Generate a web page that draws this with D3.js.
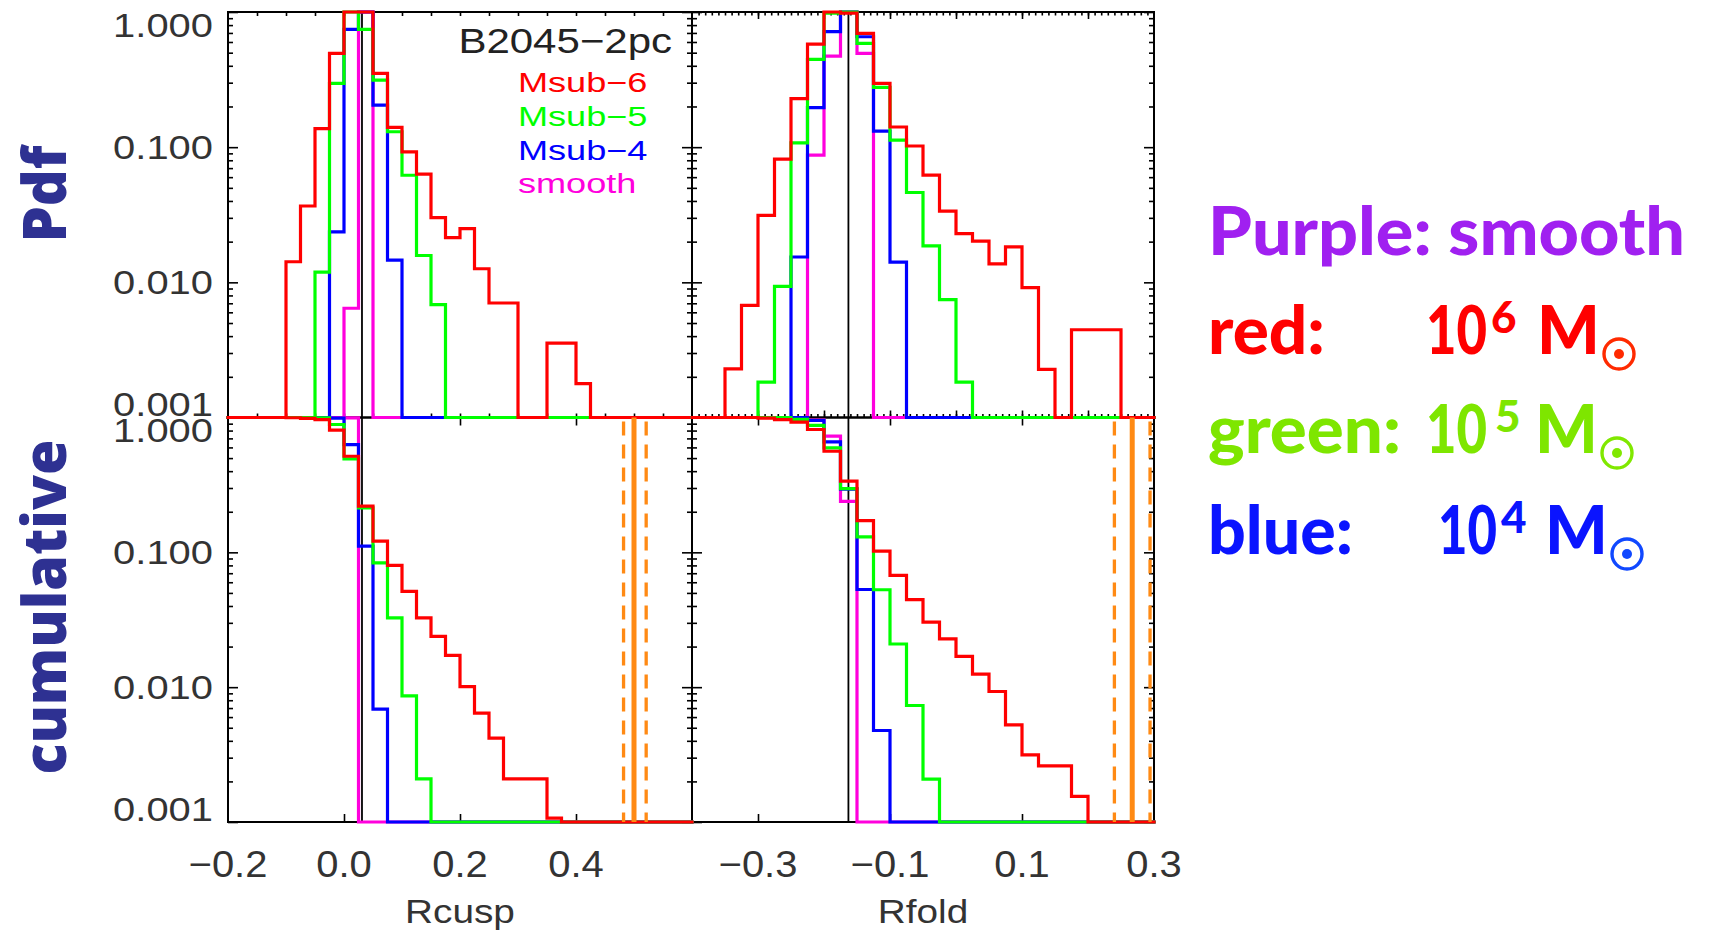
<!DOCTYPE html>
<html>
<head>
<meta charset="utf-8">
<script src="https://cdn.jsdelivr.net/npm/d3@7"></script>
<style>
  html, body { margin: 0; padding: 0; background: #fff; }
  svg { display: block; }
</style>
</head>
<body>
<svg id="chart" width="1711" height="932"></svg>
<script>
// ---------------------------------------------------------------
// Flux-ratio anomaly distributions for B2045 (2 pc source),
// substructure mass 10^6 / 10^5 / 10^4 Msun and the smooth model.
// All histograms use 0.025-wide bins.
// ---------------------------------------------------------------
const binWidth = 0.025;
const cuspBinStart = -0.2;   // 32 bins, -0.2 .. 0.6
const foldBinStart = -0.4;   // 28 bins, -0.4 .. 0.3

// Rcusp, probability density (peak = 1)
const pdfCuspM6 = [0, 0, 0, 0, 0.0142, 0.0367, 0.137, 0.494, 1.0, 1.0, 0.351, 0.140, 0.0923, 0.0631, 0.0301, 0.0214,
                   0.025, 0.0126, 0.00703, 0.00703, 0, 0, 0.00355, 0.00355, 0.00178, 0, 0, 0, 0, 0, 0, 0];
const pdfCuspM5 = [0, 0, 0, 0, 0, 0, 0.0119, 0.296, 1.0, 0.744, 0.313, 0.130, 0.062, 0.0158, 0.00684, 0,
                   0, 0, 0, 0, 0, 0, 0, 0, 0, 0, 0, 0, 0, 0, 0, 0];
const pdfCuspM4 = [0, 0, 0, 0, 0, 0, 0, 0.0236, 0.744, 1.0, 0.205, 0.0146, 0, 0, 0, 0,
                   0, 0, 0, 0, 0, 0, 0, 0, 0, 0, 0, 0, 0, 0, 0, 0];
const pdfCuspSmooth = [0, 0, 0, 0, 0, 0, 0, 0, 0.00643, 1.0, 0, 0, 0, 0, 0, 0,
                       0, 0, 0, 0, 0, 0, 0, 0, 0, 0, 0, 0, 0, 0, 0, 0];

// Rcusp, cumulative fraction above
const cumCuspM6 = [1, 1, 1, 1, 0.996, 0.985, 0.966, 0.805, 0.516, 0.220, 0.121, 0.0801, 0.0514, 0.0326, 0.0238, 0.0172,
                   0.0101, 0.00642, 0.00419, 0.00209, 0.00209, 0.00209, 0.00107, 0, 0, 0, 0, 0, 0, 0, 0, 0];
const cumCuspM5 = [1, 1, 1, 1, 1, 1, 0.995, 0.887, 0.493, 0.214, 0.0834, 0.0326, 0.00863, 0.00209, 0, 0,
                   0, 0, 0, 0, 0, 0, 0, 0, 0, 0, 0, 0, 0, 0, 0, 0];
const cumCuspM4 = [1, 1, 1, 1, 1, 1, 1, 0.988, 0.630, 0.111, 0.00687, 0, 0, 0, 0, 0,
                   0, 0, 0, 0, 0, 0, 0, 0, 0, 0, 0, 0, 0, 0, 0, 0];
const cumCuspSmooth = [1, 1, 1, 1, 1, 1, 1, 1, 0.994, 0, 0, 0, 0, 0, 0, 0,
                       0, 0, 0, 0, 0, 0, 0, 0, 0, 0, 0, 0, 0, 0, 0, 0];

// Rfold, probability density (peak = 1)
const pdfFoldM6 = [0, 0, 0.00229, 0.00676, 0.0313, 0.0815, 0.229, 0.579, 1.0, 0.98, 0.695, 0.296, 0.141, 0.102,
                   0.0621, 0.0336, 0.0229, 0.0202, 0.0137, 0.0183, 0.00913, 0.00227, 0, 0.00446, 0.00446, 0.00446, 0, 0];
const pdfFoldM5 = [0, 0, 0, 0, 0.00183, 0.00934, 0.1076, 0.446, 0.98, 1.0, 0.586, 0.277, 0.1127, 0.0462,
                   0.0186, 0.00744, 0.00183, 0, 0, 0, 0, 0, 0, 0, 0, 0, 0, 0];
const pdfFoldM4 = [0, 0, 0, 0, 0, 0, 0.0154, 0.196, 0.715, 1.0, 0.656, 0.1314, 0.0141, 0,
                   0, 0, 0, 0, 0, 0, 0, 0, 0, 0, 0, 0, 0, 0];
const pdfFoldSmooth = [0, 0, 0, 0, 0, 0, 0, 0.0872, 0.472, 1.0, 0.494, 0, 0, 0,
                       0, 0, 0, 0, 0, 0, 0, 0, 0, 0, 0, 0, 0, 0];

// Rfold, cumulative fraction above
const cumFoldM6 = [1, 1, 1, 1, 0.99, 0.966, 0.923, 0.815, 0.562, 0.337, 0.172, 0.102, 0.0675, 0.0446,
                   0.0304, 0.0228, 0.0169, 0.0125, 0.00929, 0.00526, 0.00315, 0.00261, 0.00261, 0.00155, 0, 0, 0, 0];
const cumFoldM5 = [1, 1, 1, 1, 1, 0.997, 0.967, 0.873, 0.596, 0.297, 0.130, 0.0528, 0.0209, 0.00731,
                   0.00208, 0, 0, 0, 0, 0, 0, 0, 0, 0, 0, 0, 0, 0];
const cumFoldM4 = [1, 1, 1, 1, 1, 1, 1, 0.95, 0.660, 0.294, 0.053, 0.00477, 0, 0,
                   0, 0, 0, 0, 0, 0, 0, 0, 0, 0, 0, 0, 0, 0];
const cumFoldSmooth = [1, 1, 1, 1, 1, 1, 1, 0.957, 0.727, 0.239, 0, 0, 0, 0,
                       0, 0, 0, 0, 0, 0, 0, 0, 0, 0, 0, 0, 0, 0];

// Reference value of the smooth lens and the observed ratios (value, lower, upper)
const smoothCusp = 0.031;
const smoothFold = -0.163;
const observedCusp = [0.500, 0.482, 0.521];
const observedFold = [0.267, 0.240, 0.294];

// Series styling, drawn back to front
const seriesNames  = ["smooth", "Msub-4", "Msub-5", "Msub-6"];
const seriesColors = ["#ff00dd", "#0000ff", "#00ff00", "#ff0000"];

// Axis labels
const yTickValues = [1, 0.1, 0.01, 0.001];
const yTickText   = ["1.000", "0.100", "0.010", "0.001"];
const cuspTickValues = [-0.2, 0.0, 0.2, 0.4];
const cuspTickText   = ["\u22120.2", "0.0", "0.2", "0.4"];
const foldTickValues = [-0.3, -0.1, 0.1, 0.3];
const foldTickText   = ["\u22120.3", "\u22120.1", "0.1", "0.3"];

// Mass key
const keyLabels   = ["red:", "green:", "blue:"];
const keyExponent = ["6", "5", "4"];

// ---------------------------------------------------------------
const svg = d3.select("#chart");
const yFloor = 0.001;

const xCusp = d3.scaleLinear().domain([-0.2, 0.6]).range([228, 692]);
const xFold = d3.scaleLinear().domain([-0.4, 0.3]).range([692, 1154]);
const yPdf  = d3.scaleLog().domain([0.001, 1]).range([417.5, 12]).clamp(true);
const yCum  = d3.scaleLog().domain([0.001, 1]).range([822, 417.5]).clamp(true);

const panels = [
  { x: xCusp, y: yPdf, start: cuspBinStart, data: [pdfCuspSmooth, pdfCuspM4, pdfCuspM5, pdfCuspM6], kind: "pdf", sub: "cusp" },
  { x: xFold, y: yPdf, start: foldBinStart, data: [pdfFoldSmooth, pdfFoldM4, pdfFoldM5, pdfFoldM6], kind: "pdf", sub: "fold" },
  { x: xCusp, y: yCum, start: cuspBinStart, data: [cumCuspSmooth, cumCuspM4, cumCuspM5, cumCuspM6], kind: "cum", sub: "cusp" },
  { x: xFold, y: yCum, start: foldBinStart, data: [cumFoldSmooth, cumFoldM4, cumFoldM5, cumFoldM6], kind: "cum", sub: "fold" }
];

function tickAxis(axisFn, scale, values, size, tx, ty) {
  const g = svg.append("g")
    .attr("transform", `translate(${tx},${ty})`)
    .call(axisFn(scale).tickValues(values).tickSize(size).tickSizeOuter(0).tickFormat(""));
  g.select(".domain").remove();
  g.selectAll("text").remove();
  g.selectAll("line").attr("stroke", "#000").attr("stroke-width", 1.6);
}

// horizontally stretched text (the plot font is drawn wide)
function wideText(x, y, str, size, sx, anchor, color) {
  return svg.append("text")
    .attr("transform", `translate(${x},${y}) scale(${sx},1)`)
    .attr("text-anchor", anchor)
    .attr("font-family", "'Liberation Sans', Arial, Helvetica, sans-serif")
    .attr("font-size", size)
    .attr("fill", color)
    .text(str);
}

const cuspMinor = d3.range(-3, 12).map(i => i * 0.05);
const foldMinor = d3.range(-39, 30).map(i => i / 100);
const foldMid   = [-0.3, -0.2, -0.1, 0, 0.1, 0.2];

panels.forEach(p => {
  const [x0, x1] = p.x.range();
  const [y1, y0] = p.y.range();

  // frame
  svg.append("rect")
    .attr("x", x0).attr("y", y0).attr("width", x1 - x0).attr("height", y1 - y0)
    .attr("fill", "none").attr("stroke", "#000").attr("stroke-width", 2);

  // logarithmic y ticks, pointing into the panel
  const all = p.y.ticks();
  const major = all.filter(v => Math.abs(Math.log10(v) - Math.round(Math.log10(v))) < 1e-6);
  const minor = all.filter(v => !major.includes(v));
  tickAxis(d3.axisRight, p.y, major, 10, x0, 0);
  tickAxis(d3.axisRight, p.y, minor, 5, x0, 0);
  tickAxis(d3.axisLeft, p.y, major, 10, x1, 0);
  tickAxis(d3.axisLeft, p.y, minor, 5, x1, 0);

  // x ticks
  if (p.kind === "pdf") {
    if (p.sub === "cusp") {
      tickAxis(d3.axisBottom, p.x, cuspMinor, 4, 0, y0);
      tickAxis(d3.axisTop, p.x, cuspMinor, 4, 0, y1);
    } else {
      tickAxis(d3.axisBottom, p.x, foldMinor, 3.5, 0, y0);
      tickAxis(d3.axisTop, p.x, foldMinor, 3.5, 0, y1);
      tickAxis(d3.axisBottom, p.x, foldMid, 7, 0, y0);
      tickAxis(d3.axisTop, p.x, foldMid, 7, 0, y1);
    }
  } else {
    const majors = (p.sub === "cusp" ? cuspTickValues : foldTickValues).filter(v => v > p.x.domain()[0] + 1e-9 && v < p.x.domain()[1] - 1e-9);
    tickAxis(d3.axisBottom, p.x, majors, 8, 0, y0);
    tickAxis(d3.axisTop, p.x, majors, 8, 0, y1);
  }
});

// smooth-lens reference lines through both rows
[[xCusp, smoothCusp], [xFold, smoothFold]].forEach(([x, v]) => {
  svg.append("line")
    .attr("x1", x(v)).attr("x2", x(v))
    .attr("y1", yPdf.range()[1]).attr("y2", yCum.range()[0])
    .attr("stroke", "#000").attr("stroke-width", 1.8);
});

// step histograms
panels.forEach(p => {
  const line = d3.line()
    .x(d => p.x(d[0]))
    .y(d => p.y(Math.max(d[1], yFloor)))
    .curve(d3.curveStepAfter);
  p.data.forEach((vals, k) => {
    const pts = vals.map((v, i) => [p.start + i * binWidth, v]);
    pts.push([p.start + vals.length * binWidth, vals[vals.length - 1]]);
    svg.append("path")
      .attr("d", line(pts))
      .attr("fill", "none")
      .attr("stroke", seriesColors[k])
      .attr("stroke-width", 3.2)
      .attr("stroke-linejoin", "miter")
      .attr("stroke-linecap", "square");
  });
});

// observed values with their uncertainty, lower row
[[xCusp, observedCusp], [xFold, observedFold]].forEach(([x, obs]) => {
  const [yb, yt] = yCum.range();
  svg.append("line")
    .attr("x1", x(obs[0])).attr("x2", x(obs[0]))
    .attr("y1", yt).attr("y2", yb)
    .attr("stroke", "#ff8a14").attr("stroke-width", 5);
  [obs[1], obs[2]].forEach(v => {
    svg.append("line")
      .attr("x1", x(v)).attr("x2", x(v))
      .attr("y1", yt + 4).attr("y2", yb)
      .attr("stroke", "#ff8a14").attr("stroke-width", 3.3)
      .attr("stroke-dasharray", "14,9");
  });
});

// y tick labels (left column)
[yPdf, yCum].forEach(y => {
  const [yb, yt] = y.range();
  yTickValues.forEach((v, i) => {
    const yc = Math.min(Math.max(y(v), yt + 13), yb - 13);
    wideText(213, yc + 11.5, yTickText[i], 33, 1.21, "end", "#333");
  });
});

// x tick labels
cuspTickValues.forEach((v, i) => wideText(xCusp(v), 877, cuspTickText[i], 37, 1.08, "middle", "#333"));
foldTickValues.forEach((v, i) => wideText(xFold(v), 877, foldTickText[i], 37, 1.08, "middle", "#333"));

// x axis titles
wideText((xCusp.range()[0] + xCusp.range()[1]) / 2, 923, "Rcusp", 34, 1.14, "middle", "#333");
wideText((xFold.range()[0] + xFold.range()[1]) / 2, 923, "Rfold", 34, 1.14, "middle", "#333");

// in-panel legend
wideText(672, 53, "B2045\u22122pc", 35, 1.2, "end", "#222");
const legendText = ["Msub\u22126", "Msub\u22125", "Msub\u22124", "smooth"];
const legendColor = [seriesColors[3], seriesColors[2], seriesColors[1], seriesColors[0]];
legendText.forEach((t, i) => wideText(518, 92 + i * 33.8, t, 28, 1.29, "start", legendColor[i]));

// row titles
const rowFont = "'Open Sans', 'Noto Sans', sans-serif";
svg.append("text")
  .attr("transform", "translate(66,194) rotate(-90)")
  .attr("text-anchor", "middle")
  .attr("font-family", rowFont).attr("font-weight", 800).attr("font-size", 60)
  .attr("fill", "#2e3192")
  .attr("textLength", 97).attr("lengthAdjust", "spacingAndGlyphs")
  .text("Pdf");
svg.append("text")
  .attr("transform", "translate(66,607) rotate(-90)")
  .attr("text-anchor", "middle")
  .attr("font-family", rowFont).attr("font-weight", 800).attr("font-size", 60)
  .attr("fill", "#2e3192")
  .attr("textLength", 335).attr("lengthAdjust", "spacingAndGlyphs")
  .text("cumulative");

// mass key on the right
const keyFont = "Lato, 'Open Sans', sans-serif";
function keyText(x, y, str, size, color, len) {
  const t = svg.append("text")
    .attr("x", x).attr("y", y)
    .attr("font-family", keyFont).attr("font-weight", 900).attr("font-size", size)
    .attr("fill", color).text(str);
  if (len) t.attr("textLength", len).attr("lengthAdjust", "spacingAndGlyphs");
  return t;
}
function sun(cx, cy, color) {
  svg.append("circle").attr("cx", cx).attr("cy", cy).attr("r", 15)
    .attr("fill", "none").attr("stroke", color).attr("stroke-width", 3.4);
  svg.append("circle").attr("cx", cx).attr("cy", cy).attr("r", 5).attr("fill", color);
}

keyText(1208, 255, "Purple: smooth", 66, "#a020f0", 477);

const keyRows = [
  { color: "#ff0000", sunColor: "#ff2a00", base: 354, labelLen: 117, ten: 1426, tenLen: 61, expX: 1491, m: 1537, sunX: 1619 },
  { color: "#7ee600", sunColor: "#80e800", base: 453, labelLen: 193, ten: 1426, tenLen: 61, expX: 1495, m: 1535, sunX: 1617 },
  { color: "#0a14ff", sunColor: "#1048ff", base: 554, labelLen: 145, ten: 1438, tenLen: 59, expX: 1501, m: 1545, sunX: 1627 }
];
keyRows.forEach((r, i) => {
  keyText(1208, r.base, keyLabels[i], 66, r.color, r.labelLen);
  keyText(r.ten, r.base, "10", 66, r.color, r.tenLen);
  keyText(r.expX, r.base - 21, keyExponent[i], 44, r.color);
  keyText(r.m, r.base, "M", 66, r.color);
  sun(r.sunX, r.base, r.sunColor);
});
</script>
</body>
</html>
